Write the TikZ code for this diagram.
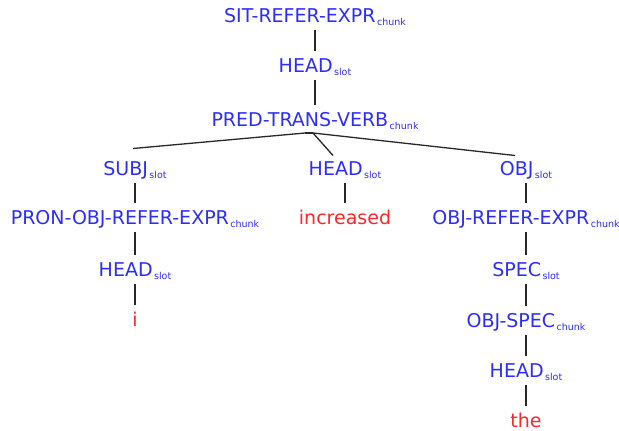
\documentclass[tikz,border=0pt]{standalone}
\usepackage{fontspec}
\setmainfont{DejaVu Sans}
\definecolor{nodeblue}{RGB}{45,45,250}
\definecolor{wordred}{RGB}{250,40,40}
\definecolor{edgegray}{RGB}{40,40,40}
\newcommand\mylbl[2]{#1\hspace{1.5pt}\raisebox{-3pt}{\fontsize{9.5}{10}\selectfont #2}}
\begin{document}
\begin{tikzpicture}[x=1pt,y=-1pt,
  lab/.style={font=\fontsize{19}{20}\selectfont, inner xsep=0pt, inner ysep=7.5pt,
    text height=13.8pt, text depth=0.5pt, anchor=base, text=nodeblue},
  word/.style={lab, text=wordred},
  edge/.style={draw=edgegray, line width=1.3pt}]
\useasboundingbox (0,0) rectangle (619,431);
\node[lab] (sit) at (315,22) {\mylbl{SIT-REFER-EXPR}{chunk}};
\node[lab] (head1) at (315,72) {\mylbl{HEAD}{slot}};
\node[lab] (pred) at (315,126) {\mylbl{PRED-TRANS-VERB}{chunk}};
\node[lab] (subj) at (135,175) {\mylbl{SUBJ}{slot}};
\node[lab] (head2) at (345,175) {\mylbl{HEAD}{slot}};
\node[lab] (obj) at (526,175) {\mylbl{OBJ}{slot}};
\node[lab] (pron) at (135,224) {\mylbl{PRON-OBJ-REFER-EXPR}{chunk}};
\node[word] (incr) at (345,224) {increased};
\node[lab] (objref) at (526,224) {\mylbl{OBJ-REFER-EXPR}{chunk}};
\node[lab] (head3) at (135,276) {\mylbl{HEAD}{slot}};
\node[lab] (spec) at (526,276) {\mylbl{SPEC}{slot}};
\node[word] (iw) at (135,326) {i};
\node[lab] (objspec) at (526,327) {\mylbl{OBJ-SPEC}{chunk}};
\node[lab] (head4) at (526,377) {\mylbl{HEAD}{slot}};
\node[word] (the) at (526,427) {the};
\coordinate (apexL) at (305,133);
\coordinate (apexR) at (313,133);
\draw[edge] (sit.south) -- (head1.north);
\draw[edge] (head1.south) -- (pred.north);
\draw[edge] (apexL) -- (apexR);
\draw[edge] (apexL) -- ([shift={(-2,-5)}]subj.north);
\draw[edge] (apexR) -- ([shift={(-12,2)}]head2.north);
\draw[edge] (apexR) -- ([shift={(-11,2)}]obj.north);
\draw[edge] (subj.south) -- (pron.north);
\draw[edge] (pron.south) -- (head3.north);
\draw[edge] (head3.south) -- (iw.north);
\draw[edge] (head2.south) -- (incr.north);
\draw[edge] (obj.south) -- (objref.north);
\draw[edge] (objref.south) -- (spec.north);
\draw[edge] (spec.south) -- (objspec.north);
\draw[edge] (objspec.south) -- (head4.north);
\draw[edge] (head4.south) -- (the.north);
\end{tikzpicture}
\end{document}
